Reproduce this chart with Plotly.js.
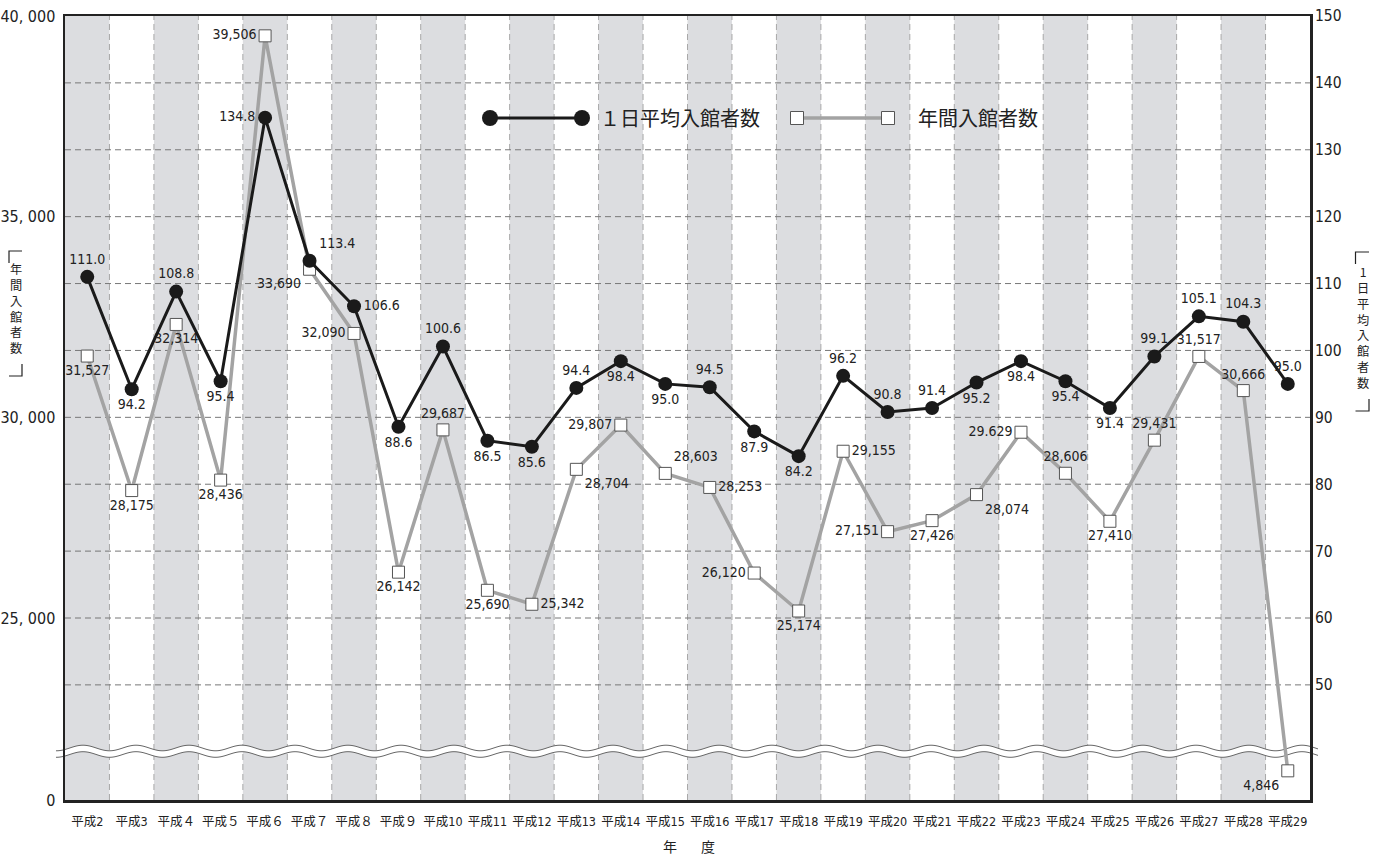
<!DOCTYPE html>
<html>
<head>
<meta charset="utf-8">
<script src="https://cdn.plot.ly/plotly-3.0.1.min.js"></script>
<style>html,body{margin:0;padding:0;background:#fff;}#chart{width:1386px;height:859px;}</style>
</head>
<body>
<div id="chart"></div>
<script>
// ---- data ----
const categories = ['平成2','平成3','平成４','平成５','平成６','平成７','平成８','平成９','平成10','平成11','平成12','平成13','平成14','平成15','平成16','平成17','平成18','平成19','平成20','平成21','平成22','平成23','平成24','平成25','平成26','平成27','平成28','平成29'];
const dailyAvg = [111.0, 94.2, 108.8, 95.4, 134.8, 113.4, 106.6, 88.6, 100.6, 86.5, 85.6, 94.4, 98.4, 95.0, 94.5, 87.9, 84.2, 96.2, 90.8, 91.4, 95.2, 98.4, 95.4, 91.4, 99.1, 105.1, 104.3, 95.0];
const annualVisitors = [31527, 28175, 32314, 28436, 39506, 33690, 32090, 26142, 29687, 25690, 25342, 28704, 29807, 28603, 28253, 26120, 25174, 29155, 27151, 27426, 28074, 29629, 28606, 27410, 29431, 31517, 30666, 4846];
const annualLabels = ['31,527','28,175','32,314','28,436','39,506','33,690','32,090','26,142','29,687','25,690','25,342','28,704','29,807','28,603','28,253','26,120','25,174','29,155','27,151','27,426','28,074','29.629','28,606','27,410','29,431','31,517','30,666','4,846'];
const leftTickVals = [0, 25000, 30000, 35000, 40000];
const leftTickText = ['0', '25, 000', '30, 000', '35, 000', '40, 000'];
const rightTickVals = [50, 60, 70, 80, 90, 100, 110, 120, 130, 140, 150];
const seriesNames = ['１日平均入館者数', '年間入館者数'];
const leftTitleChars = ['年','間','入','館','者','数'];
const rightTitleChars = ['1','日','平','均','入','館','者','数'];
const xTitleChars = ['年','度'];

// ---- label placement (style) ----
const dailyPos = ['top center','bottom center','top center','bottom center','middle left','top right','middle right','bottom center','top center','bottom center','bottom center','top center','bottom center','bottom center','top center','bottom center','bottom center','top center','top center','top center','bottom center','bottom center','bottom center','bottom center','top center','top center','top center','top center'];
const annualPos = ['bottom center','bottom center','bottom center','bottom center','middle left','bottom left','middle left','bottom center','top center','bottom center','middle right','bottom right','middle left','top right','middle right','middle left','bottom center','middle right','middle left','bottom center','bottom right','middle left','top center','bottom center','top center','top center','top center','bottom left'];

// ---- broken left axis ----
const AXIS_BOTTOM = 20465;   // display value at the axis floor (shown as "0")
const BREAK_LIMIT = 20000;   // real values below this are drawn in the lower segment
const LOWER_SCALE = 0.15;    // compression of the lower segment
function toDisplay(v) { return v >= BREAK_LIMIT ? v : AXIS_BOTTOM + v * LOWER_SCALE; }
const leftTickPos = leftTickVals.map(toDisplay);

// ---- geometry helpers ----
const W = 1386, H = 859, M = {l: 65, r: 76, t: 16, b: 59};
const PW = W - M.l - M.r, PH = H - M.t - M.b;
const px2x = p => (p - M.l) / PW;
const px2y = p => (H - M.b - p) / PH;

const numFont = 'DejaVu Sans Condensed, Liberation Sans Narrow, Noto Sans CJK JP, sans-serif';
const cjkFont = 'Noto Sans CJK JP, sans-serif';
const ink = '#222';

const shapes = [];
const n = categories.length;
// alternating bands
for (let i = 0; i < n; i += 2) {
  shapes.push({type: 'rect', xref: 'x', yref: 'paper', x0: i - 0.5, x1: i + 0.5, y0: 0, y1: 1,
    fillcolor: '#dcdde0', line: {width: 0}, layer: 'below'});
}
// vertical dashed grid
for (let i = 0; i < n - 1; i++) {
  shapes.push({type: 'line', xref: 'x', yref: 'paper', x0: i + 0.5, x1: i + 0.5, y0: 0, y1: 1,
    line: {color: '#a8a8a8', width: 1, dash: '6px,4px'}, layer: 'below'});
}
// horizontal dashed grid (right axis ticks)
for (const v of rightTickVals.slice(0, -1)) {
  shapes.push({type: 'line', xref: 'paper', yref: 'y2', x0: 0, x1: 1, y0: v, y1: v,
    line: {color: '#777', width: 1, dash: '6px,4px'}, layer: 'below'});
}
// break wave
function wavePts(centerPx) {
  const pts = [];
  for (let x = 56; x <= 1318; x += 2) {
    const y = centerPx - 2.8 * Math.cos(2 * Math.PI * (x - 83) / 53);
    pts.push([px2x(x), px2y(y)]);
  }
  return pts;
}
const toPath = pts => pts.map((p, k) => (k === 0 ? 'M' : 'L') + p[0].toFixed(5) + ',' + p[1].toFixed(5)).join(' ');
const upW = wavePts(748), loW = wavePts(754.5);
shapes.push({type: 'path', xref: 'paper', yref: 'paper', path: toPath(upW) + ' ' + toPath(loW.slice().reverse()).replace(/^M/, 'L') + ' Z',
  fillcolor: '#ffffff', line: {width: 0}, layer: 'below'});
shapes.push({type: 'path', xref: 'paper', yref: 'paper', path: toPath(upW), line: {color: '#666', width: 1}, layer: 'below'});
shapes.push({type: 'path', xref: 'paper', yref: 'paper', path: toPath(loW), line: {color: '#666', width: 1}, layer: 'below'});

// manual legend
const legY = px2y(118);
shapes.push({type: 'line', xref: 'paper', yref: 'paper', x0: px2x(490), x1: px2x(582), y0: legY, y1: legY, line: {color: '#1a1a1a', width: 3}});
for (const cx of [490, 582]) {
  shapes.push({type: 'circle', xref: 'paper', yref: 'paper', xsizemode: 'pixel', ysizemode: 'pixel',
    xanchor: px2x(cx), yanchor: legY, x0: -8, x1: 8, y0: -8, y1: 8, fillcolor: '#1a1a1a', line: {width: 0}});
}
shapes.push({type: 'line', xref: 'paper', yref: 'paper', x0: px2x(797), x1: px2x(888), y0: legY, y1: legY, line: {color: '#a3a3a3', width: 3.5}});
for (const cx of [797, 888]) {
  shapes.push({type: 'rect', xref: 'paper', yref: 'paper', xsizemode: 'pixel', ysizemode: 'pixel',
    xanchor: px2x(cx), yanchor: legY, x0: -6.5, x1: 6.5, y0: -6.5, y1: 6.5, fillcolor: '#ffffff', line: {color: '#555', width: 1}});
}

// title brackets (vertical titles)
function bracketPath(pts) { return pts.map((p, k) => (k === 0 ? 'M' : 'L') + px2x(p[0]).toFixed(5) + ',' + px2y(p[1]).toFixed(5)).join(' '); }
const brk = {color: ink, width: 1.2};
shapes.push({type: 'path', xref: 'paper', yref: 'paper', path: bracketPath([[9, 263], [9, 251], [22, 251]]), line: brk});
shapes.push({type: 'path', xref: 'paper', yref: 'paper', path: bracketPath([[9, 376], [22, 376], [22, 364]]), line: brk});
shapes.push({type: 'path', xref: 'paper', yref: 'paper', path: bracketPath([[1355.5, 264], [1355.5, 252], [1369, 252]]), line: brk});
shapes.push({type: 'path', xref: 'paper', yref: 'paper', path: bracketPath([[1355.5, 411], [1369, 411], [1369, 399]]), line: brk});

const annotations = [
  {xref: 'paper', yref: 'paper', x: px2x(598), y: legY, xanchor: 'left', yanchor: 'middle', showarrow: false,
    text: seriesNames[0], font: {family: cjkFont, size: 20, color: ink}},
  {xref: 'paper', yref: 'paper', x: px2x(916), y: legY, xanchor: 'left', yanchor: 'middle', showarrow: false,
    text: seriesNames[1], font: {family: cjkFont, size: 20, color: ink}},
  {xref: 'paper', yref: 'paper', x: px2x(15.5), y: px2y(308), xanchor: 'center', yanchor: 'middle', showarrow: false,
    text: leftTitleChars.join('<br>'), font: {family: cjkFont, size: 12.2, color: ink}},
  {xref: 'paper', yref: 'paper', x: px2x(1362.5), y: px2y(327.5), xanchor: 'center', yanchor: 'middle', showarrow: false,
    text: rightTitleChars.join('<br>'), font: {family: cjkFont, size: 12.2, color: ink}}
];
xTitleChars.forEach((c, k) => annotations.push({xref: 'paper', yref: 'paper', x: px2x(670 + k * 38), y: px2y(846),
  xanchor: 'center', yanchor: 'middle', showarrow: false, text: c, font: {family: cjkFont, size: 14, color: ink}}));

const traces = [
  {
    x: categories, y: annualVisitors.map(toDisplay), yaxis: 'y', type: 'scatter', mode: 'lines+markers+text',
    name: seriesNames[1], text: annualLabels, textposition: annualPos,
    textfont: {family: numFont, size: 14, color: ink},
    line: {color: '#a3a3a3', width: 3.5},
    marker: {symbol: 'square', size: 12, color: '#ffffff', line: {color: '#555', width: 1}},
    cliponaxis: false, showlegend: false, hoverinfo: 'skip'
  },
  {
    x: categories, y: dailyAvg, yaxis: 'y2', type: 'scatter', mode: 'lines+markers+text',
    name: seriesNames[0], text: dailyAvg.map(v => v.toFixed(1)), textposition: dailyPos,
    textfont: {family: numFont, size: 14, color: ink},
    line: {color: '#1a1a1a', width: 3},
    marker: {symbol: 'circle', size: 14, color: '#1a1a1a'},
    cliponaxis: false, showlegend: false, hoverinfo: 'skip'
  }
];

const layout = {
  width: W, height: H, margin: M,
  paper_bgcolor: '#ffffff', plot_bgcolor: '#ffffff',
  showlegend: false,
  xaxis: {
    type: 'category', range: [-0.5, n - 0.5], showgrid: false, zeroline: false,
    showline: true, linecolor: ink, linewidth: 2.5, mirror: true, ticks: '', ticklabelstandoff: 8,
    tickfont: {family: numFont, size: 12.5, color: ink}, fixedrange: true
  },
  yaxis: {
    range: [AXIS_BOTTOM, 40000], showgrid: false, zeroline: false,
    showline: true, linecolor: ink, linewidth: 2.5, mirror: true, ticks: '',
    tickvals: leftTickPos, ticktext: leftTickText, ticklabelstandoff: 4,
    tickfont: {family: numFont, size: 16, color: ink}, fixedrange: true
  },
  yaxis2: {
    overlaying: 'y', side: 'right', range: [32.79, 150], showgrid: false, zeroline: false,
    showline: false, ticks: '', tickvals: rightTickVals, ticklabelstandoff: 4,
    tickfont: {family: numFont, size: 15.5, color: ink}, fixedrange: true
  },
  shapes: shapes,
  annotations: annotations
};

Plotly.newPlot('chart', traces, layout, {staticPlot: true, displayModeBar: false});
</script>
</body>
</html>
